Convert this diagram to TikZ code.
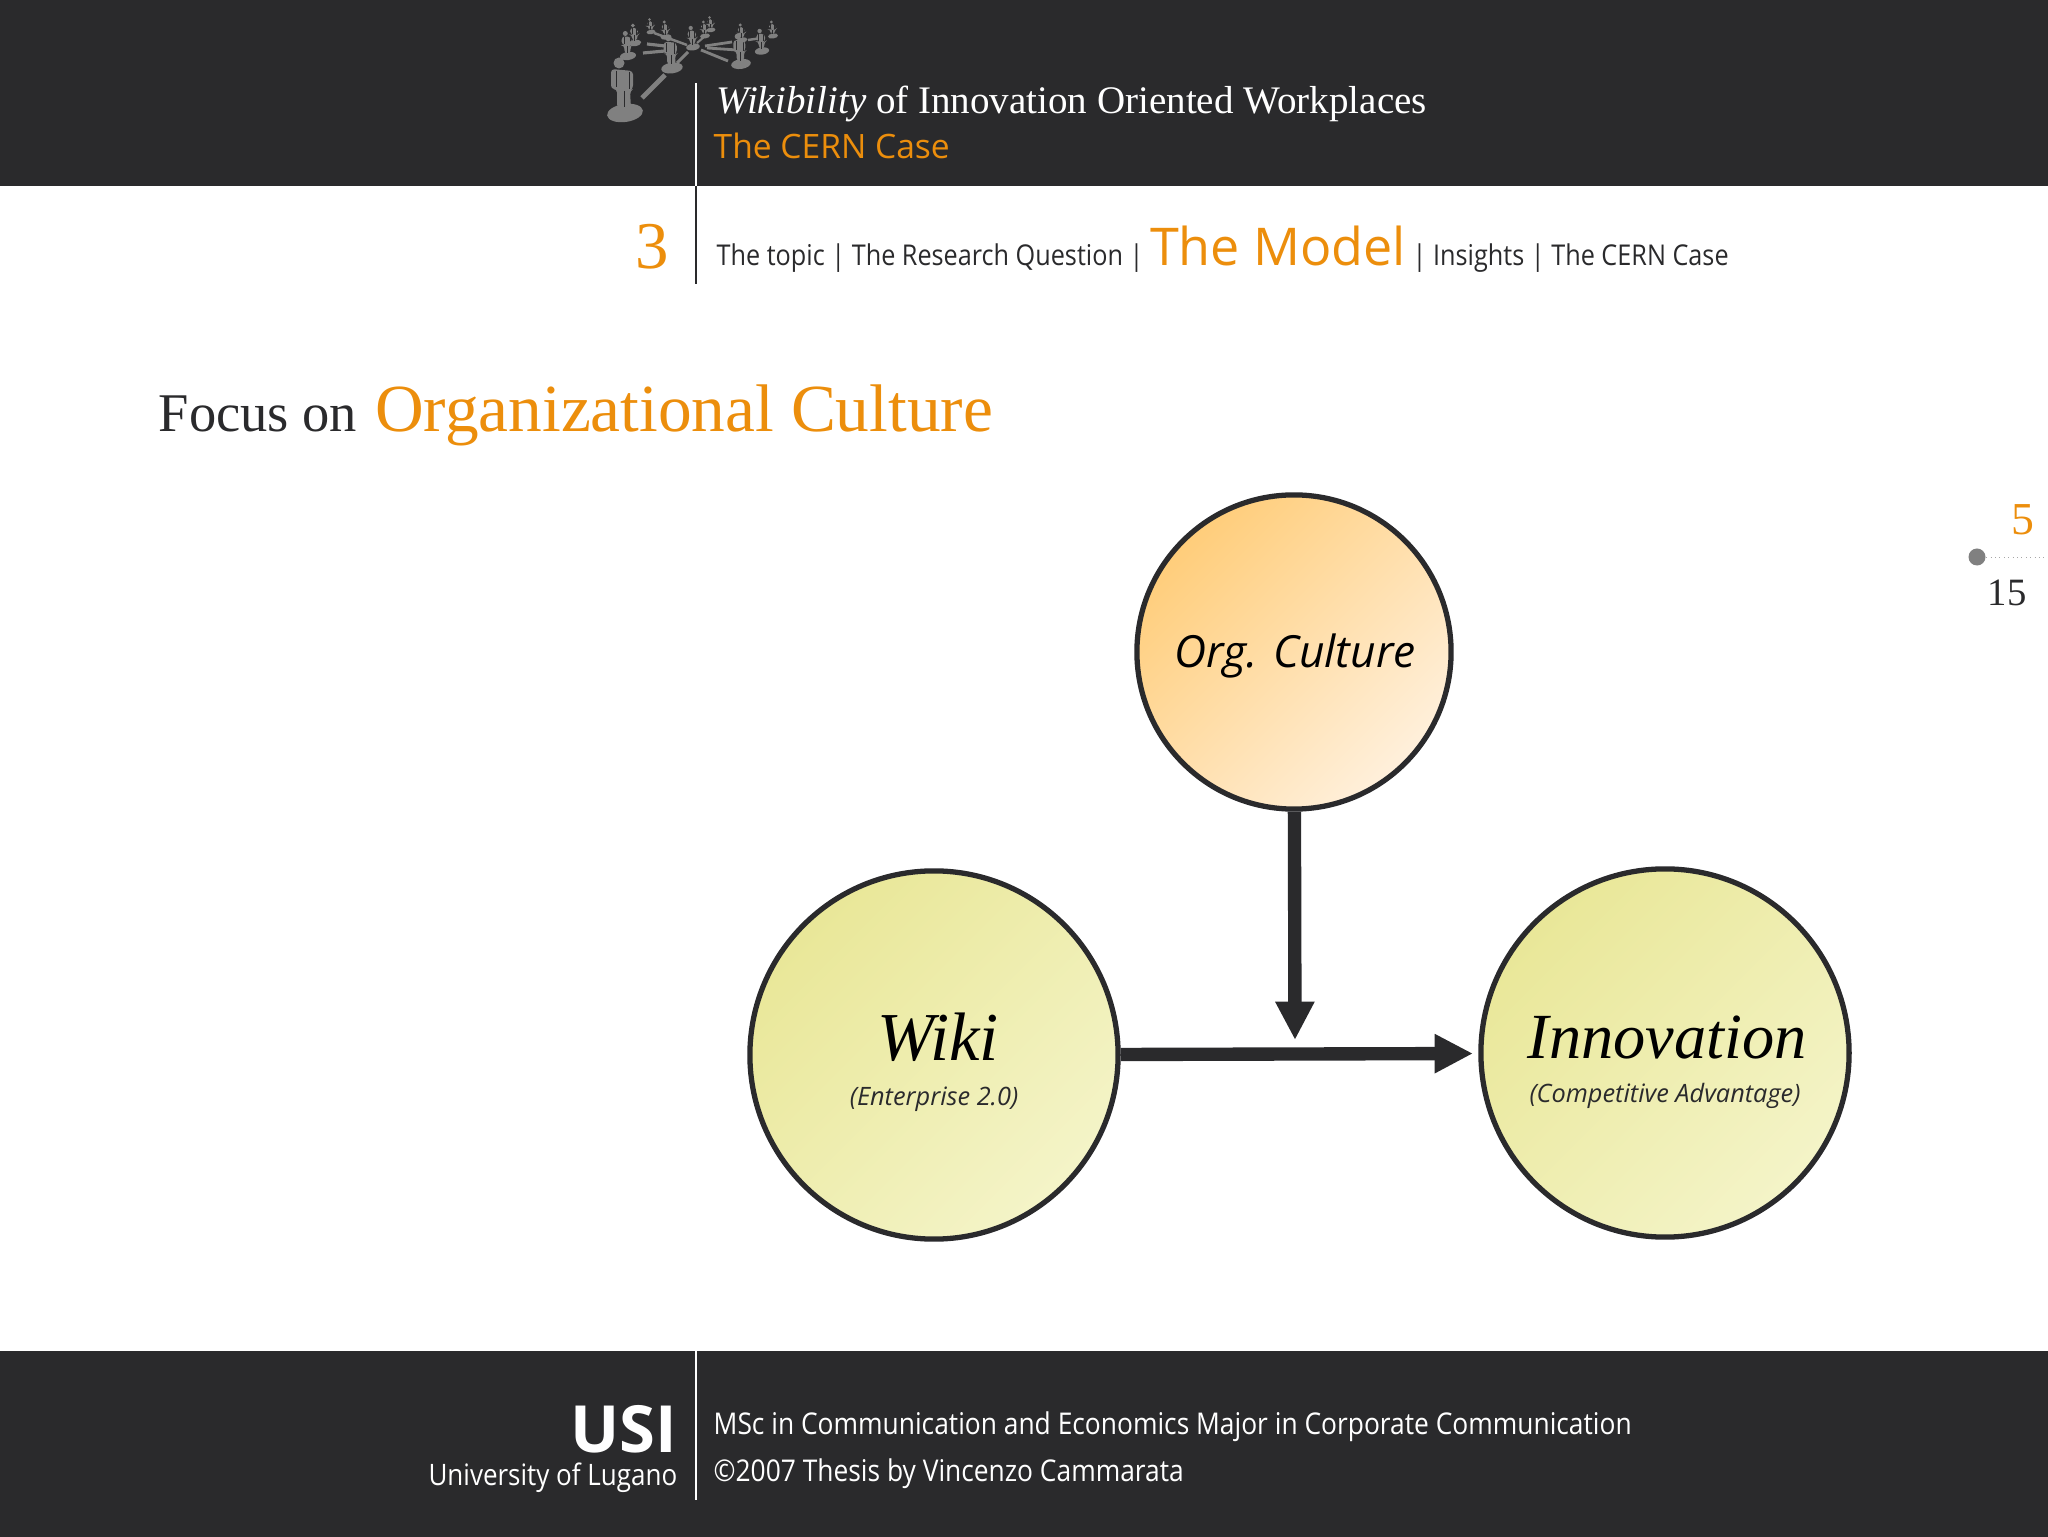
\documentclass[tikz,border=0pt]{standalone}
\usepackage{fontspec}
\setmainfont{Liberation Serif}
\setsansfont[FakeStretch=0.88]{Open Sans}
\newfontfamily\widesans{Open Sans}
\usetikzlibrary{arrows.meta}
\definecolor{panel}{RGB}{42,42,44}
\definecolor{accent}{RGB}{236,142,12}
\definecolor{logo}{RGB}{128,128,128}
\definecolor{culturetop}{RGB}{255,205,122}
\definecolor{culturelow}{RGB}{255,240,220}
\definecolor{wikitop}{RGB}{233,231,152}
\definecolor{wikilow}{RGB}{244,244,200}
\newcommand{\sz}[1]{\fontsize{#1}{#1}\selectfont}
\newcommand{\logoperson}[3]{
\begin{scope}[shift={(#1,#2)},scale=#3]
\fill[logo,rotate=8] (0,0) ellipse (18 and 9);
\fill[logo] (-6,-50) circle (5.5);
\fill[logo,rounded corners=1] (-14,-44) -- (8,-42) -- (8,-24) -- (5,-22) -- (6,-5) -- (-8,-5) -- (-8,-24) -- (-14,-24) -- cycle;
\draw[panel,line width=.15pt] (-9,-42) -- (-9,-26) (4,-41) -- (4,-24) (-1,-22) -- (-1,-6);
\end{scope}}
\begin{document}
\begin{tikzpicture}[x=0.01cm,y=-0.01cm]
\tikzstyle{label}=[inner sep=0pt,anchor=base west,text=panel];
\tikzstyle{bubbletext}=[inner sep=0pt,anchor=base,text=panel];
\tikzstyle{whitelabel}=[label,text=white,font=\sffamily\sz{8.52}];
\tikzstyle{bubble}=[circle,draw=panel,line width=1.5pt,inner sep=0pt];
\tikzstyle{yellowbubble}=[bubble,minimum size=3.68cm,top color=wikitop,bottom color=wikilow,shading angle=45];
\tikzstyle{link}=[panel,line width=3.8pt,-{Triangle[length=1.15cm/3,width=1.1cm/3]}];
\useasboundingbox (0,0) rectangle (2048,1537);
\fill[panel] (0,0) rectangle (2048,186);
\fill[panel] (0,1351) rectangle (2048,1537);
% logo
\foreach \xa/\ya/\xb/\yb/\w in {642/98/665/75/1.4,677/63/688/52/.9,643/53/665/51/.9,647/44/665/46/.9,654/33/687/45/.7,697/43/704/37/.6,701/50/728/61/.8,707/48/737/50/.8,705/46/732/42/.8,748/40/762/38/.7}
	\draw[logo,line width=\w pt] (\xa,\ya) -- (\xb,\yb);
\logoperson{625}{113}{1}
\logoperson{672}{68}{.6}
\logoperson{741}{64}{.55}
\logoperson{628}{56}{.45}
\logoperson{635}{43}{.35}
\logoperson{651}{32}{.25}
\logoperson{666}{37}{.3}
\logoperson{693}{47}{.38}
\logoperson{705}{36}{.28}
\logoperson{711}{30}{.25}
\logoperson{742}{40}{.3}
\logoperson{762}{51}{.4}
\logoperson{773}{36}{.28}
% header
\draw[white,line width=.55pt] (696,83) -- (696,186);
\draw[panel,line width=.55pt] (696,186) -- (696,284);
\node[label,text=white,font=\sz{11.1}] (title) at (716,114) {\textit{Wikibility} of Innovation Oriented Workplaces};
\node[label,text=accent,font=\widesans\sz{9.55}] (subtitle) at (713,159) {The CERN Case};
\node[label,text=accent,font=\sz{19}] (chapter) at (635,269) {3};
\node[label,font=\sffamily\sz{8.15}] (menu) at (716,266) {The topic | The Research Question | {\color{accent}\widesans\sz{14.8}The Model} | Insights | The CERN Case};
% heading
\node[label,font=\sz{15.5}] (heading) at (158,432) {Focus on\hspace{1.3pt} \textcolor{accent}{\sz{19.15}Organizational Culture}};
% page count
\node[label,text=accent,font=\sz{13}] (page) at (2011,535) {5};
\node[label,font=\sz{11}] (total) at (1987,606) {15};
\node[circle,fill=gray,inner sep=0pt,minimum size=.17cm] (dot) at (1977,557) {};
\coordinate (dotend) at (2048,557);
\draw[gray!70,densely dotted,line width=.25pt] (dot) -- (dotend);
% model
\node[bubble,minimum size=3.14cm,top color=culturetop,bottom color=culturelow,shading angle=45] (culture) at (1294,652) {};
\node[yellowbubble] (wiki) at (934,1055) {};
\node[yellowbubble] (innovation) at (1665,1053) {};
\node[bubbletext,text=black,font=\widesans\itshape\sz{12.6}] (culturename) at (1295,668) {Org. Culture};
\node[bubbletext,text=black,font=\itshape\sz{19.5}] (wikiname) at (938,1060) {Wiki};
\node[bubbletext,font=\widesans\itshape\sz{7.2}] (wikinote) at (934,1105) {(Enterprise 2.0)};
\node[bubbletext,text=black,font=\itshape\sz{18.3}] (innovationname) at (1667,1058) {Innovation};
\node[bubbletext,font=\widesans\itshape\sz{7.2}] (innovationnote) at (1665,1102) {(Competitive Advantage)};
\coordinate (junction) at (1295,1040);
\draw[link] (culture) -- (junction);
\draw[link,shorten >=1.5pt] (wiki) -- (innovation);
% footer
\draw[white,line width=.55pt] (696,1351) -- (696,1500);
\node[inner sep=0pt,anchor=base east,text=white,font=\widesans\bfseries\sz{18.5}] (usi) at (678,1452) {USI};
\node[inner sep=0pt,anchor=base east,text=white,font=\sffamily\sz{8.4}] (lugano) at (678,1485) {University of Lugano};
\node[whitelabel] (degree) at (713,1434) {MSc in Communication and Economics Major in Corporate Communication};
\node[whitelabel] (thesis) at (713,1481) {©2007 Thesis by Vincenzo Cammarata};
\end{tikzpicture}
\end{document}
